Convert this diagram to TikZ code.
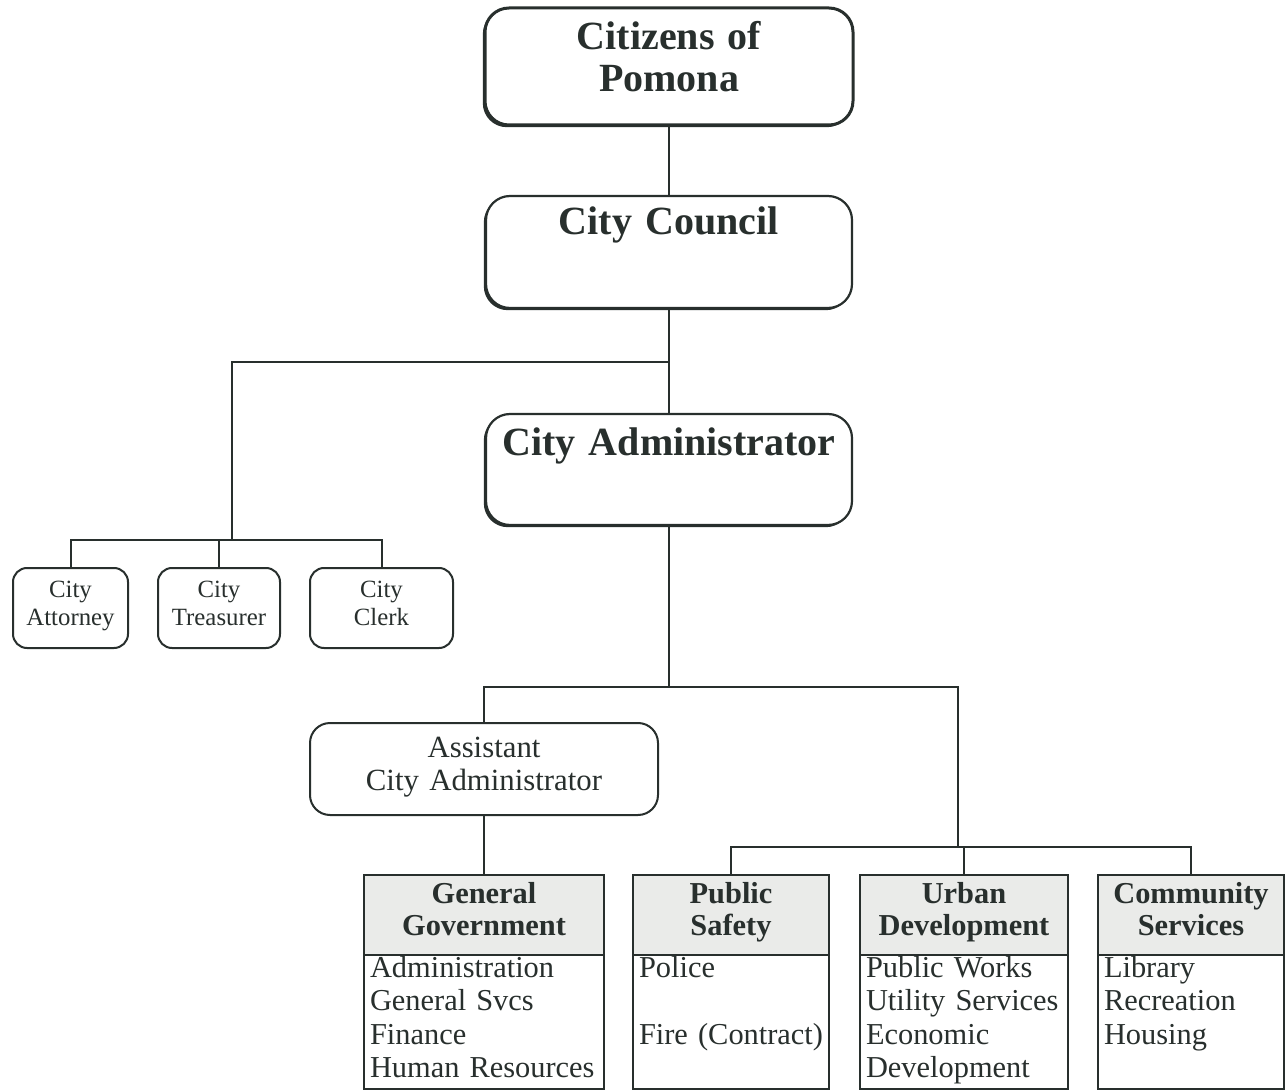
\documentclass[tikz,border=0pt]{standalone}
\usepackage{fontspec}
\setmainfont{Liberation Serif}
\usetikzlibrary{positioning,shadows}
\definecolor{ink}{RGB}{40,47,45}
\definecolor{headfill}{RGB}{234,235,233}

\begin{document}
\begin{tikzpicture}[x=0.5pt,y=-0.5pt,line width=1pt,draw=ink,text=ink,
    box/.style={draw=ink,fill=white,anchor=north,inner sep=0pt,outer sep=0pt,align=center},
    bigbox/.style={box,rounded corners=12pt,line width=1.1pt,
      font=\bfseries\fontsize{20}{21}\selectfont,
      drop shadow={shadow xshift=-1.1pt,shadow yshift=-1.1pt,opacity=1,fill=ink}},
    officebox/.style={box,rounded corners=7pt,font=\fontsize{12.4}{14}\selectfont,
      text height=14.5pt,text depth=25.5pt},
    headbox/.style={box,fill=headfill,font=\bfseries\fontsize{15.2}{16.2}\selectfont,
      text height=14pt,text depth=26pt},
    listbox/.style={box,align=left,inner xsep=3pt,
      font=\fontsize{15.2}{16.8}\selectfont,text height=11pt,text depth=56pt}]
  \useasboundingbox (0,0) rectangle (1286,1091);
  % council and administrator
  \node[bigbox,line width=1.5pt,text width=184pt,text height=21pt,text depth=37.5pt] (citizens) at (669,8) {Citizens of\\Pomona};
  \node[bigbox,text width=183pt,text height=19.5pt,text depth=36.5pt] (council) at (669,196) {City Council};
  \node[bigbox,text width=183pt,text height=20.5pt,text depth=35pt] (admin) at (669,414) {City Administrator};
  % elected offices
  \node[officebox,text width=57.5pt] (attorney) at (70.5,568) {City\\Attorney};
  \node[officebox,text width=61pt] (treasurer) at (219,568) {City\\Treasurer};
  \node[officebox,text width=71.5pt] (clerk) at (381.5,568) {City\\Clerk};
  \node[box,rounded corners=10pt,text width=174pt,text height=17pt,text depth=29pt,
    font=\fontsize{15.4}{16.5}\selectfont] (assistant) at (484,723) {Assistant\\City Administrator};
  % departments
  \node[headbox,text width=120pt] (genhead) at (484,875) {General\\Government};
  \node[listbox,text width=114pt,below=0pt of genhead] (genlist) {Administration\\General Svcs\\Finance\\Human Resources};
  \node[headbox,text width=98pt] (safehead) at (731,875) {Public\\Safety};
  \node[listbox,text width=92pt,below=0pt of safehead] (safelist) {Police\\[16.8pt]\mbox{Fire (Contract)}};
  \node[headbox,text width=104pt] (urbhead) at (964,875) {Urban\\Development};
  \node[listbox,text width=98pt,below=0pt of urbhead] (urblist) {Public Works\\Utility Services\\Economic\\Development};
  \node[headbox,text width=93pt] (commhead) at (1191,875) {Community\\Services};
  \node[listbox,text width=87pt,below=0pt of commhead] (commlist) {Library\\Recreation\\Housing};
  % vertical spine
  \draw (citizens) -- (council);
  \draw (council) -- (admin);
  % offices branch
  \coordinate (officejoin) at (669,362);
  \coordinate (officebar) at (232,540);
  \draw (officejoin) -| (officebar);
  \draw (attorney.north) |- (officebar) -| (clerk.north);
  \draw (treasurer.north) -- (treasurer.north |- officebar);
  % departments branch
  \coordinate (deptjoin) at (669,687);
  \coordinate (deptbar) at (958,847);
  \draw (admin) -- (deptjoin);
  \draw (assistant.north) |- (deptjoin) -| (deptbar);
  \draw (assistant) -- (genhead);
  \draw (safehead.north) |- (deptbar) -| (commhead.north);
  \draw (urbhead.north) -- (urbhead.north |- deptbar);
\end{tikzpicture}
\end{document}
